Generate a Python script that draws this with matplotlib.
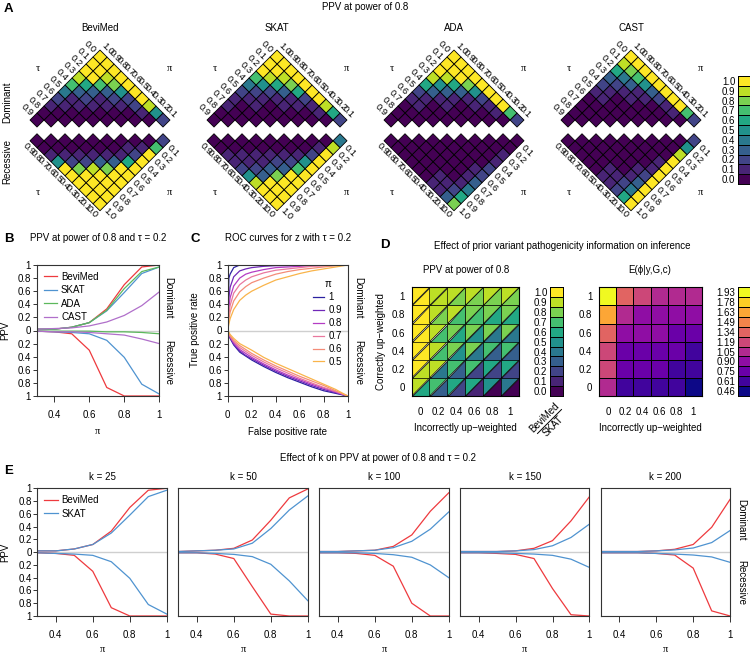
import numpy as np
import matplotlib
matplotlib.use('Agg')
import matplotlib.pyplot as plt
from matplotlib import transforms as mtransforms
from matplotlib.colors import BoundaryNorm, ListedColormap
from matplotlib.lines import Line2D
from matplotlib.tri import Triangulation

plt.rcParams['font.family'] = ['Liberation Sans', 'DejaVu Sans']

W, H = 750, 653
FS = 7
SERIF = ['Liberation Serif', 'DejaVu Serif']


def box(l, t, r, b):
    return [l / W, 1 - b / H, (r - l) / W, (b - t) / H]


# ---------------- data ----------------
methods = ['BeviMed', 'SKAT', 'ADA', 'CAST']
tau = [0.0, 0.1, 0.2, 0.3, 0.4, 0.5, 0.6, 0.7, 0.8, 0.9]
pi = [0.1, 0.2, 0.3, 0.4, 0.5, 0.6, 0.7, 0.8, 0.9, 1.0]
ppv_levels = [0.0, 0.1, 0.2, 0.3, 0.4, 0.5, 0.6, 0.7, 0.8, 0.9, 1.0]

# panel A: rows of each triangle, row r has pi - tau = 1.0 - 0.1 r
# (left cell: pi = 1.0, right cell: tau = 0.0)
bevimed_dom = [[1.0], [1.0, 1.0], [1.0, 1.0, 1.0], [0.9, 1.0, 0.9, 1.0],
               [0.7, 0.6, 0.7, 0.8, 1.0], [0.4, 0.3, 0.3, 0.3, 0.5, 1.0],
               [0.2, 0.1, 0.2, 0.1, 0.2, 0.2, 1.0],
               [0.1, 0.1, 0.1, 0.1, 0.1, 0.1, 0.2, 0.9],
               [0.0, 0.0, 0.0, 0.0, 0.0, 0.0, 0.0, 0.1, 0.5],
               [0.0, 0.0, 0.0, 0.0, 0.0, 0.0, 0.0, 0.0, 0.0, 0.2]]
bevimed_rec = [[1.0], [1.0, 1.0], [1.0, 1.0, 1.0], [1.0, 1.0, 1.0, 1.0],
               [1.0, 1.0, 1.0, 1.0, 1.0], [1.0, 0.8, 0.9, 0.8, 1.0, 1.0],
               [0.5, 0.2, 0.2, 0.3, 0.3, 0.6, 1.0],
               [0.1, 0.1, 0.1, 0.1, 0.1, 0.1, 0.2, 1.0],
               [0.0, 0.0, 0.0, 0.0, 0.0, 0.0, 0.1, 0.1, 0.7],
               [0.0, 0.0, 0.0, 0.0, 0.0, 0.0, 0.0, 0.0, 0.0, 0.2]]
skat_dom = [[1.0], [1.0, 1.0], [1.0, 1.0, 1.0], [0.7, 0.9, 0.9, 1.0],
            [0.4, 0.5, 0.6, 0.8, 1.0], [0.2, 0.2, 0.2, 0.3, 0.6, 1.0],
            [0.1, 0.1, 0.1, 0.1, 0.1, 0.2, 1.0],
            [0.1, 0.0, 0.1, 0.0, 0.1, 0.1, 0.1, 0.9],
            [0.0, 0.0, 0.0, 0.0, 0.0, 0.0, 0.0, 0.1, 0.6],
            [0.0, 0.0, 0.0, 0.0, 0.0, 0.0, 0.0, 0.0, 0.0, 0.2]]
skat_rec = [[1.0], [1.0, 1.0], [1.0, 1.0, 1.0], [0.9, 1.0, 1.0, 1.0],
            [0.5, 0.3, 0.8, 1.0, 1.0], [0.2, 0.2, 0.3, 0.3, 0.7, 1.0],
            [0.1, 0.1, 0.1, 0.2, 0.2, 0.5, 1.0],
            [0.1, 0.1, 0.1, 0.1, 0.1, 0.1, 0.2, 1.0],
            [0.0, 0.0, 0.0, 0.0, 0.0, 0.0, 0.0, 0.1, 0.9],
            [0.0, 0.0, 0.0, 0.0, 0.0, 0.0, 0.0, 0.0, 0.0, 0.4]]
ada_dom = [[1.0], [1.0, 1.0], [1.0, 1.0, 1.0], [0.9, 0.9, 1.0, 1.0],
           [0.6, 0.5, 0.6, 0.8, 1.0], [0.2, 0.3, 0.3, 0.3, 0.5, 1.0],
           [0.1, 0.1, 0.1, 0.1, 0.1, 0.2, 1.0],
           [0.0, 0.1, 0.0, 0.1, 0.0, 0.1, 0.1, 1.0],
           [0.0, 0.0, 0.0, 0.0, 0.0, 0.0, 0.0, 0.1, 0.7],
           [0.0, 0.0, 0.0, 0.0, 0.0, 0.0, 0.0, 0.0, 0.0, 0.2]]
ada_rec = [[0.8], [0.3, 0.6], [0.1, 0.2, 0.4], [0.1, 0.1, 0.1, 0.3],
           [0.0, 0.1, 0.0, 0.1, 0.2], [0.0, 0.0, 0.0, 0.0, 0.1, 0.2],
           [0.0, 0.0, 0.0, 0.0, 0.0, 0.0, 0.1],
           [0.0, 0.0, 0.0, 0.0, 0.0, 0.0, 0.0, 0.1],
           [0.0, 0.0, 0.0, 0.0, 0.0, 0.0, 0.0, 0.0, 0.0],
           [0.0, 0.0, 0.0, 0.0, 0.0, 0.0, 0.0, 0.0, 0.0, 0.0]]
cast_dom = [[1.0], [0.9, 1.0], [0.6, 0.8, 1.0], [0.3, 0.4, 0.7, 1.0],
            [0.2, 0.2, 0.3, 0.5, 1.0], [0.1, 0.1, 0.1, 0.1, 0.3, 1.0],
            [0.0, 0.1, 0.0, 0.1, 0.1, 0.2, 1.0],
            [0.0, 0.0, 0.0, 0.0, 0.0, 0.0, 0.1, 1.0],
            [0.0, 0.0, 0.0, 0.0, 0.0, 0.0, 0.0, 0.1, 0.7],
            [0.0, 0.0, 0.0, 0.0, 0.0, 0.0, 0.0, 0.0, 0.0, 0.2]]
cast_rec = [[1.0], [0.6, 1.0], [0.2, 0.4, 1.0], [0.1, 0.2, 0.3, 1.0],
            [0.1, 0.1, 0.1, 0.2, 1.0], [0.0, 0.1, 0.0, 0.1, 0.1, 1.0],
            [0.0, 0.0, 0.0, 0.0, 0.0, 0.1, 1.0],
            [0.0, 0.0, 0.0, 0.0, 0.0, 0.0, 0.0, 0.9],
            [0.0, 0.0, 0.0, 0.0, 0.0, 0.0, 0.0, 0.0, 0.5],
            [0.0, 0.0, 0.0, 0.0, 0.0, 0.0, 0.0, 0.0, 0.0, 0.2]]
tri_dom = [bevimed_dom, skat_dom, ada_dom, cast_dom]
tri_rec = [bevimed_rec, skat_rec, ada_rec, cast_rec]

# panel B
pi_line = [0.3, 0.4, 0.5, 0.6, 0.7, 0.8, 0.9, 1.0]
b_bevimed_dom = [0.02, 0.02, 0.05, 0.12, 0.33, 0.70, 0.97, 1.00]
b_skat_dom = [0.02, 0.02, 0.05, 0.12, 0.30, 0.58, 0.87, 0.97]
b_ada_dom = [0.02, 0.02, 0.05, 0.12, 0.31, 0.64, 0.90, 0.97]
b_cast_dom = [0.02, 0.03, 0.04, 0.07, 0.13, 0.23, 0.38, 0.59]
b_bevimed_rec = [0.01, 0.02, 0.05, 0.30, 0.87, 1.00, 1.00, 1.00]
b_skat_rec = [0.01, 0.02, 0.03, 0.05, 0.15, 0.41, 0.82, 0.97]
b_ada_rec = [0.01, 0.01, 0.01, 0.01, 0.02, 0.02, 0.03, 0.05]
b_cast_rec = [0.01, 0.02, 0.02, 0.03, 0.05, 0.07, 0.13, 0.20]
method_colors = ['#ee3a3e', '#4f93d0', '#5cb85c', '#b06fca']

# panel C
fpr = [0, 0.01, 0.02, 0.05, 0.1, 0.15, 0.2, 0.3, 0.4, 0.5, 0.6, 0.7, 0.8, 0.9, 1.0]
roc_pi = ['1', '0.9', '0.8', '0.7', '0.6', '0.5']
roc_dom = [
    [0, 0.80, 0.86, 0.96, 1.00, 1.00, 1.00, 1.00, 1.00, 1.00, 1.00, 1.00, 1.00, 1.00, 1.00],
    [0, 0.50, 0.66, 0.82, 0.91, 0.94, 0.96, 0.98, 0.99, 0.99, 1.00, 1.00, 1.00, 1.00, 1.00],
    [0, 0.35, 0.50, 0.68, 0.80, 0.86, 0.89, 0.93, 0.96, 0.97, 0.98, 0.99, 0.99, 1.00, 1.00],
    [0, 0.25, 0.38, 0.57, 0.70, 0.77, 0.82, 0.88, 0.92, 0.94, 0.96, 0.98, 0.99, 0.99, 1.00],
    [0, 0.18, 0.28, 0.45, 0.59, 0.67, 0.73, 0.80, 0.86, 0.90, 0.93, 0.95, 0.97, 0.99, 1.00],
    [0, 0.10, 0.18, 0.32, 0.46, 0.54, 0.60, 0.69, 0.77, 0.82, 0.87, 0.91, 0.94, 0.97, 1.00]]
roc_rec = [
    [0, 0.07, 0.12, 0.22, 0.33, 0.39, 0.45, 0.55, 0.64, 0.72, 0.79, 0.86, 0.92, 0.96, 1.00],
    [0, 0.06, 0.11, 0.21, 0.31, 0.38, 0.43, 0.53, 0.62, 0.70, 0.77, 0.84, 0.90, 0.95, 1.00],
    [0, 0.05, 0.10, 0.19, 0.29, 0.35, 0.41, 0.51, 0.60, 0.68, 0.75, 0.82, 0.88, 0.94, 1.00],
    [0, 0.05, 0.09, 0.17, 0.26, 0.32, 0.38, 0.48, 0.57, 0.65, 0.73, 0.80, 0.87, 0.93, 1.00],
    [0, 0.04, 0.08, 0.15, 0.23, 0.29, 0.35, 0.45, 0.54, 0.62, 0.70, 0.77, 0.84, 0.92, 1.00],
    [0, 0.03, 0.06, 0.12, 0.20, 0.25, 0.30, 0.41, 0.50, 0.58, 0.66, 0.74, 0.82, 0.90, 1.00]]
roc_colors = ['#2b21a0', '#7028b8', '#b43cc4', '#e9789e', '#f48c78', '#f9b44a']

# panel D (rows: correctly up-weighted 0 -> 1, cols: incorrectly 0 -> 1)
weights = [0, 0.2, 0.4, 0.6, 0.8, 1]
d_bevimed = [[0.9, 0.7, 0.6, 0.6, 0.5, 0.4],
             [1.0, 0.9, 0.7, 0.7, 0.6, 0.6],
             [1.0, 0.9, 0.8, 0.8, 0.7, 0.7],
             [1.0, 0.9, 0.8, 0.8, 0.8, 0.8],
             [1.0, 0.9, 0.9, 0.8, 0.8, 0.8],
             [1.0, 0.9, 0.9, 0.9, 0.9, 0.9]]
d_skat = [[0.6, 0.3, 0.2, 0.1, 0.0, 0.0],
          [0.9, 0.4, 0.3, 0.2, 0.2, 0.2],
          [1.0, 0.7, 0.5, 0.4, 0.3, 0.3],
          [1.0, 0.7, 0.6, 0.5, 0.4, 0.4],
          [1.0, 0.8, 0.7, 0.7, 0.6, 0.6],
          [1.0, 0.9, 0.8, 0.8, 0.8, 0.8]]
phi_levels = [0.46, 0.61, 0.75, 0.90, 1.05, 1.19, 1.34, 1.49, 1.63, 1.78, 1.93]
d_phi = [[1.05, 0.61, 0.61, 0.61, 0.61, 0.46],
         [1.19, 0.75, 0.75, 0.75, 0.61, 0.61],
         [1.19, 0.75, 0.75, 0.75, 0.75, 0.61],
         [1.34, 0.90, 0.90, 0.90, 0.75, 0.75],
         [1.63, 1.05, 0.90, 0.90, 0.90, 0.90],
         [1.93, 1.34, 1.19, 1.05, 1.05, 1.05]]

# panel E
k_values = [25, 50, 100, 150, 200]
e_bevimed_dom = [[0.02, 0.02, 0.05, 0.12, 0.33, 0.70, 0.97, 1.00],
                 [0.01, 0.02, 0.03, 0.06, 0.19, 0.50, 0.85, 0.99],
                 [0.01, 0.01, 0.02, 0.03, 0.09, 0.27, 0.64, 0.93],
                 [0.01, 0.01, 0.01, 0.02, 0.06, 0.18, 0.49, 0.87],
                 [0.01, 0.01, 0.01, 0.02, 0.045, 0.12, 0.39, 0.83]]
e_skat_dom = [[0.02, 0.02, 0.05, 0.12, 0.30, 0.58, 0.87, 0.97],
              [0.01, 0.02, 0.03, 0.05, 0.14, 0.37, 0.66, 0.88],
              [0.01, 0.01, 0.02, 0.03, 0.07, 0.17, 0.36, 0.63],
              [0.01, 0.01, 0.01, 0.02, 0.04, 0.10, 0.23, 0.44],
              [0.01, 0.01, 0.01, 0.02, 0.035, 0.065, 0.15, 0.34]]
e_bevimed_rec = [[0.01, 0.02, 0.05, 0.30, 0.87, 1.00, 1.00, 1.00],
                 [0.01, 0.01, 0.03, 0.10, 0.54, 0.97, 1.00, 1.00],
                 [0.01, 0.01, 0.02, 0.05, 0.22, 0.80, 1.00, 1.00],
                 [0.01, 0.01, 0.02, 0.035, 0.10, 0.57, 0.98, 1.00],
                 [0.01, 0.01, 0.01, 0.02, 0.045, 0.25, 0.92, 1.00]]
e_skat_rec = [[0.01, 0.02, 0.03, 0.05, 0.15, 0.41, 0.82, 0.97],
              [0.01, 0.01, 0.02, 0.035, 0.07, 0.19, 0.45, 0.76],
              [0.01, 0.01, 0.01, 0.02, 0.04, 0.08, 0.20, 0.40],
              [0.01, 0.01, 0.01, 0.02, 0.03, 0.05, 0.11, 0.24],
              [0.01, 0.01, 0.01, 0.02, 0.03, 0.045, 0.075, 0.16]]

# ---------------- helpers ----------------
cmap_v = ListedColormap(plt.cm.viridis(np.linspace(0, 1, len(ppv_levels))))
norm_v = BoundaryNorm(np.append(np.array(ppv_levels) - 0.05, 1.05), cmap_v.N)
cmap_p = ListedColormap(plt.cm.plasma(np.linspace(0, 1, len(phi_levels))))
phi_b = np.array(phi_levels)
phi_edges = np.concatenate([[phi_b[0] - 0.07], (phi_b[1:] + phi_b[:-1]) / 2, [phi_b[-1] + 0.07]])
norm_p = BoundaryNorm(phi_edges, cmap_p.N)


def tri_grid(rows):
    m = np.full((10, 10), np.nan)   # [tau index, pi index]
    for r, row in enumerate(rows):
        for k, v in enumerate(row):
            m[r - k, 9 - k] = v
    return np.ma.masked_invalid(m)


def draw_colorbar(rect, cmap, labels):
    cax = fig.add_axes(rect)
    n = len(labels)
    cax.pcolormesh([0, 1], np.arange(n + 1), np.arange(n).reshape(-1, 1),
                   cmap=cmap, edgecolors='k', linewidth=0.5)
    cax.set_xlim(0, 1)
    cax.set_ylim(0, n)
    cax.set_xticks([])
    cax.set_yticks(np.arange(n) + 0.5)
    cax.set_yticklabels(labels, fontsize=FS)
    cax.tick_params(axis='y', length=0, pad=2)
    for s in cax.spines.values():
        s.set_linewidth(0.7)
    return cax


def style_pm(ax, xlim, xticks, xlabels, show_y=True):
    ax.set_xlim(*xlim)
    ax.set_ylim(-1, 1)
    ax.axhline(0, color='#cfcfcf', lw=1.0, zorder=0)
    yt = np.round(np.linspace(-1, 1, 11), 1)
    ax.set_yticks(yt)
    if show_y:
        ax.set_yticklabels([f'{abs(v):g}' for v in yt])
    else:
        ax.tick_params(axis='y', left=False, labelleft=False)
    ax.set_xticks(xticks)
    ax.set_xticklabels(xlabels)
    ax.tick_params(axis='x', length=4, pad=6, width=0.7, labelsize=FS, color='#333333')
    ax.tick_params(axis='y', length=3, pad=1, width=0.7, labelsize=FS, color='#333333')
    for s in ax.spines.values():
        s.set_color('#333333')
        s.set_linewidth(0.8)


fig = plt.figure(figsize=(7.5, 6.53), dpi=100)
fig.patch.set_facecolor('white')

# ---------------- panel A ----------------
fig.text(4 / W, 1 - 9 / H, 'A', fontsize=9.5, fontweight='bold', va='center')
fig.text(365 / W, 1 - 7 / H, 'PPV at power of 0.8', fontsize=FS, ha='center', va='center')
fig.text(7 / W, 1 - 102 / H, 'Dominant', fontsize=FS, rotation=90, ha='center', va='center')
fig.text(7 / W, 1 - 162 / H, 'Recessive', fontsize=FS, rotation=90, ha='center', va='center')

g = 0.48
scale = 7.0
edges = np.arange(11) - 0.5
centres = [100, 277, 454, 631]
cy = 130.4
for m, cx in enumerate(centres):
    half = 88
    ax = fig.add_axes(box(cx - half, cy - half, cx + half, cy + half))
    ax.set_xlim(-half / scale, half / scale)
    ax.set_ylim(-half / scale, half / scale)
    ax.axis('off')
    for rows, sgn in ((tri_dom[m], 1), (tri_rec[m], -1)):
        tr = mtransforms.Affine2D(np.array([[-1.0, -1.0, 9.0],
                                            [sgn, -sgn, sgn * (g + 1)],
                                            [0.0, 0.0, 1.0]]))
        ax.pcolor(edges, edges, tri_grid(rows), cmap=cmap_v, norm=norm_v,
                  edgecolors='k', linewidth=0.6, transform=tr + ax.transData)
    for b in range(10):
        ax.text(-b - 0.75, g + 10 - b + 0.75, f'{tau[b]:.1f}', fontsize=6.8,
                rotation=-45, ha='right', va='center', rotation_mode='anchor')
        ax.text(-b - 1.1, -(g + 10 - b) - 1.1, f'{tau[b]:.1f}', fontsize=6.8,
                rotation=-45, ha='center', va='center', rotation_mode='anchor')
    for a in range(10):
        ax.text(9 - a + 1.1, g + 1 + a + 1.1, f'{pi[a]:.1f}', fontsize=6.8,
                rotation=-45, ha='center', va='center', rotation_mode='anchor')
        ax.text(9 - a + 0.75, -(g + 1 + a) - 0.75, f'{pi[a]:.1f}', fontsize=6.8,
                rotation=-45, ha='left', va='center', rotation_mode='anchor')
    for sy in (8.9, -8.9):
        ax.text(-8.9, sy, 'τ', family=SERIF, fontsize=7.5, ha='center', va='center')
        ax.text(10.0, sy, 'π', family=SERIF, fontsize=7.5, ha='center', va='center')
    fig.text(cx / W, 1 - 28 / H, methods[m], fontsize=FS, ha='center', va='center')

draw_colorbar(box(738, 76, 750, 184), cmap_v, [f'{v:.1f}' for v in ppv_levels])

# ---------------- panel B ----------------
fig.text(4 / W, 1 - 239 / H, 'B', fontsize=9.5, fontweight='bold', va='center')
fig.text(98 / W, 1 - 238 / H, 'PPV at power of 0.8 and τ = 0.2', fontsize=FS, ha='center', va='center')
axB = fig.add_axes(box(36.7, 265, 159.3, 396))
b_dom = [b_bevimed_dom, b_skat_dom, b_ada_dom, b_cast_dom]
b_rec = [b_bevimed_rec, b_skat_rec, b_ada_rec, b_cast_rec]
for m in range(4):
    axB.plot(pi_line, b_dom[m], color=method_colors[m], lw=0.9, label=methods[m])
    axB.plot(pi_line, -np.array(b_rec[m]), color=method_colors[m], lw=0.9)
style_pm(axB, (0.3, 1.0), [0.4, 0.6, 0.8, 1.0], ['0.4', '0.6', '0.8', '1'])
axB.legend(loc='upper left', fontsize=FS, frameon=False, handlelength=1.4,
           handletextpad=0.4, labelspacing=0.35, borderaxespad=0.3)
fig.text(5 / W, 1 - 330 / H, 'PPV', fontsize=FS, rotation=90, ha='center', va='center')
fig.text(98 / W, 1 - 432 / H, 'π', family=SERIF, fontsize=7.5, ha='center', va='center')
fig.text(168 / W, 1 - 298 / H, 'Dominant', fontsize=FS, rotation=-90, ha='center', va='center')
fig.text(168 / W, 1 - 362 / H, 'Recessive', fontsize=FS, rotation=-90, ha='center', va='center')

# ---------------- panel C ----------------
fig.text(190 / W, 1 - 239 / H, 'C', fontsize=9.5, fontweight='bold', va='center')
fig.text(288 / W, 1 - 238 / H, 'ROC curves for z with τ = 0.2', fontsize=FS, ha='center', va='center')
axC = fig.add_axes(box(227.7, 265, 347.7, 396))
for i in range(len(roc_pi)):
    axC.plot(fpr, roc_dom[i], color=roc_colors[i], lw=0.9, label=roc_pi[i])
    axC.plot(fpr, -np.array(roc_rec[i]), color=roc_colors[i], lw=0.9)
style_pm(axC, (0, 1), [0, 0.2, 0.4, 0.6, 0.8, 1.0], ['0', '0.2', '0.4', '0.6', '0.8', '1'])
axC.legend(loc='upper left', bbox_to_anchor=(0.68, 0.92), fontsize=FS, frameon=False,
           handlelength=1.1, handletextpad=0.5, labelspacing=0.3, borderaxespad=0,
           title='π', title_fontsize=FS)
fig.text(195 / W, 1 - 330 / H, 'True positive rate', fontsize=FS, rotation=90, ha='center', va='center')
fig.text(288 / W, 1 - 432 / H, 'False positive rate', fontsize=FS, ha='center', va='center')
fig.text(358 / W, 1 - 298 / H, 'Dominant', fontsize=FS, rotation=-90, ha='center', va='center')
fig.text(358 / W, 1 - 362 / H, 'Recessive', fontsize=FS, rotation=-90, ha='center', va='center')

# ---------------- panel D ----------------
fig.text(380 / W, 1 - 245 / H, 'D', fontsize=9.5, fontweight='bold', va='center')
fig.text(562 / W, 1 - 246 / H, 'Effect of prior variant pathogenicity information on inference',
         fontsize=FS, ha='center', va='center')
fig.text(466 / W, 1 - 270 / H, 'PPV at power of 0.8', fontsize=FS, ha='center', va='center')
fig.text(650 / W, 1 - 270 / H, 'E(ϕ|y,G,c)', fontsize=FS, ha='center', va='center')

axD1 = fig.add_axes(box(411.7, 287.3, 519.3, 396))
wts = np.array(weights)
corners = np.append(wts - 0.1, wts[-1] + 0.1)
cx_g, cy_g = np.meshgrid(corners, corners)
n = len(weights) + 1
tris, vals = [], []
for j in range(len(weights)):
    for i in range(len(weights)):
        ll, lr = j * n + i, j * n + i + 1
        ul, ur = (j + 1) * n + i, (j + 1) * n + i + 1
        tris.append([ll, ur, ul])
        vals.append(d_bevimed[j][i])
        tris.append([ll, lr, ur])
        vals.append(d_skat[j][i])
triang = Triangulation(cx_g.ravel(), cy_g.ravel(), np.array(tris))
axD1.tripcolor(triang, facecolors=np.array(vals), cmap=cmap_v, norm=norm_v,
               edgecolors='k', linewidth=0.5)
axD2 = fig.add_axes(box(599.3, 287.3, 701.7, 396))
axD2.pcolormesh(corners, corners, np.array(d_phi), cmap=cmap_p, norm=norm_p,
                edgecolors='k', linewidth=0.6)
for ax in (axD1, axD2):
    ax.set_xlim(corners[0], corners[-1])
    ax.set_ylim(corners[0], corners[-1])
    ax.set_xticks(weights)
    ax.set_xticklabels([f'{w:g}' for w in weights])
    ax.set_yticks(weights)
    ax.set_yticklabels([f'{w:g}' for w in weights])
    ax.tick_params(length=0, labelsize=FS)
    ax.tick_params(axis='x', pad=8)
    ax.tick_params(axis='y', pad=5)
    for s in ax.spines.values():
        s.set_linewidth(0.8)
    ax.set_xlabel('Incorrectly up\u2212weighted', fontsize=FS, labelpad=4)
axD1.set_ylabel('Correctly up\u2212weighted', fontsize=FS, labelpad=4)
draw_colorbar(box(550, 287.3, 562.7, 396), cmap_v, [f'{v:.1f}' for v in ppv_levels])
draw_colorbar(box(738, 287.3, 750, 396), cmap_p, [f'{v:.2f}' for v in phi_levels])

# "BeviMed over SKAT" key under the left colour bar
fig.text(544.5 / W, 1 - 417.5 / H, 'BeviMed', fontsize=FS, rotation=45, ha='center', va='center')
fig.text(553 / W, 1 - 426 / H, 'SKAT', fontsize=FS, rotation=45, ha='center', va='center')
fig.add_artist(Line2D([(537.5) / W, (561.5) / W], [1 - 433.5 / H, 1 - 409.5 / H],
                      color='k', lw=0.7, transform=fig.transFigure))

# ---------------- panel E ----------------
fig.text(4 / W, 1 - 471 / H, 'E', fontsize=9.5, fontweight='bold', va='center')
fig.text(378 / W, 1 - 458 / H, 'Effect of k on PPV at power of 0.8 and τ = 0.2',
         fontsize=FS, ha='center', va='center')
e_left = [37.3, 178.3, 319.3, 460.0, 600.7]
for p, k in enumerate(k_values):
    ax = fig.add_axes(box(e_left[p], 488.3, e_left[p] + 129.5, 616))
    ax.plot(pi_line, e_bevimed_dom[p], color=method_colors[0], lw=0.9, label='BeviMed')
    ax.plot(pi_line, e_skat_dom[p], color=method_colors[1], lw=0.9, label='SKAT')
    ax.plot(pi_line, -np.array(e_bevimed_rec[p]), color=method_colors[0], lw=0.9)
    ax.plot(pi_line, -np.array(e_skat_rec[p]), color=method_colors[1], lw=0.9)
    style_pm(ax, (0.3, 1.0), [0.4, 0.6, 0.8, 1.0], ['0.4', '0.6', '0.8', '1'], show_y=(p == 0))
    if p == 0:
        ax.legend(loc='upper left', fontsize=FS, frameon=False, handlelength=1.4,
                  handletextpad=0.4, labelspacing=0.35, borderaxespad=0.3)
    cxe = e_left[p] + 129.5 / 2
    fig.text(cxe / W, 1 - 477 / H, f'k = {k}', fontsize=FS, ha='center', va='center')
    fig.text(cxe / W, 1 - 650 / H, 'π', family=SERIF, fontsize=7.5, ha='center', va='center')
fig.text(5 / W, 1 - 552 / H, 'PPV', fontsize=FS, rotation=90, ha='center', va='center')
fig.text(741 / W, 1 - 520 / H, 'Dominant', fontsize=FS, rotation=-90, ha='center', va='center')
fig.text(741 / W, 1 - 583 / H, 'Recessive', fontsize=FS, rotation=-90, ha='center', va='center')

fig.savefig('out.png', dpi=100, facecolor='white')
